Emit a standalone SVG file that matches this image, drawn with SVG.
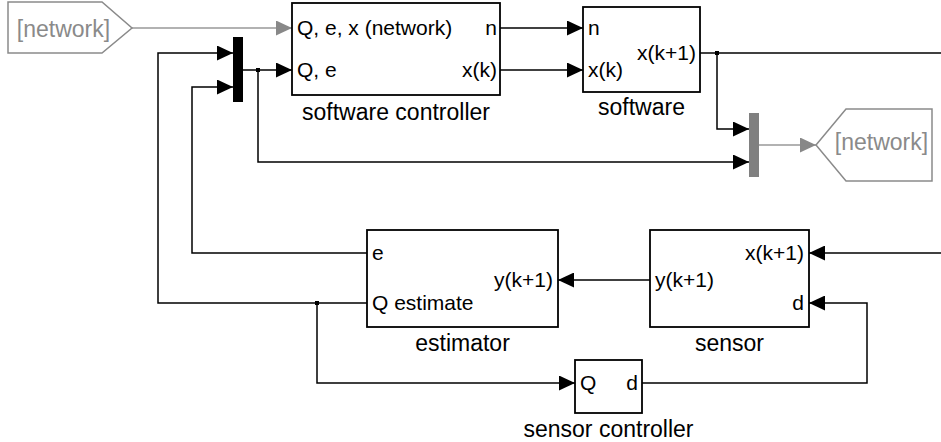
<svg xmlns="http://www.w3.org/2000/svg" width="941" height="442" viewBox="0 0 941 442">
<defs>
<style>
.blk{fill:#fff;stroke:#000;stroke-width:1.8}
.mux{fill:#000;stroke:none}
.gmux{fill:#808080;stroke:none}
.tag{fill:#fff;stroke:#8a8a8a;stroke-width:1.5}
.tagt{font-family:"Liberation Sans",Arial,sans-serif;font-size:23px;fill:#8a8a8a;text-anchor:middle}
.port{font-family:"Liberation Sans",Arial,sans-serif;font-size:21px;fill:#000}
.end{text-anchor:end}
.lbl{font-family:"Liberation Sans",Arial,sans-serif;font-size:23px;fill:#000;text-anchor:middle}
.w{fill:none;stroke:#000;stroke-width:1.5}
.gw{fill:none;stroke:#999;stroke-width:1.5}
.dot{fill:#000}
</style>
<marker id="a" markerUnits="userSpaceOnUse" markerWidth="16" markerHeight="15" refX="16" refY="7.5" orient="auto">
<path d="M0,0 L16,7.5 L0,15 z" fill="#000"/>
</marker>
<marker id="ga" markerUnits="userSpaceOnUse" markerWidth="16" markerHeight="15" refX="16" refY="7.5" orient="auto">
<path d="M0,0 L16,7.5 L0,15 z" fill="#888"/>
</marker>
</defs>

<g id="connectors">
<path class="gw" d="M132,28 H292" marker-end="url(#ga)"/>
<path class="w" d="M243,70 H292" marker-end="url(#a)"/>
<path class="w" d="M258,70 V162 H749" marker-end="url(#a)"/>
<path class="w" d="M500,28 H583" marker-end="url(#a)"/>
<path class="w" d="M500,70 H583" marker-end="url(#a)"/>
<path class="w" d="M700,53 H941"/>
<path class="w" d="M717,53 V129 H749" marker-end="url(#a)"/>
<path class="gw" d="M759,145 H816" marker-end="url(#ga)"/>
<path class="w" d="M941,253 H809" marker-end="url(#a)"/>
<path class="w" d="M650,280 H558" marker-end="url(#a)"/>
<path class="w" d="M367,253 H192 V87 H233" marker-end="url(#a)"/>
<path class="w" d="M367,303 H158 V53 H233" marker-end="url(#a)"/>
<path class="w" d="M317,303 V383 H575" marker-end="url(#a)"/>
<path class="w" d="M642,383 H867 V303 H809" marker-end="url(#a)"/>
<rect class="dot" x="256" y="68" width="4" height="4"/>
<rect class="dot" x="715" y="51" width="4" height="4"/>
<rect class="dot" x="315" y="301" width="4" height="4"/>
</g>

<g id="tag-network-from">
<polygon class="tag" points="8,2 102,2 132,28 102,53 8,53"/>
<text class="tagt" x="63.5" y="37">[network]</text>
</g>

<g id="mux-left">
<rect class="mux" x="233" y="37" width="10" height="65"/>
</g>

<g id="software-controller">
<rect class="blk" x="292" y="3" width="208" height="92"/>
<text class="port" x="297" y="35">Q, e, x (network)</text>
<text class="port" x="297" y="77">Q, e</text>
<text class="port end" x="497" y="35">n</text>
<text class="port end" x="497" y="77">x(k)</text>
<text class="lbl" x="396" y="120">software controller</text>
</g>

<g id="software">
<rect class="blk" x="583" y="7" width="117" height="85"/>
<text class="port" x="588" y="35">n</text>
<text class="port" x="588" y="77">x(k)</text>
<text class="port end" x="696" y="60">x(k+1)</text>
<text class="lbl" x="641.5" y="115">software</text>
</g>

<g id="mux-right">
<rect class="gmux" x="749" y="113" width="10" height="64"/>
</g>

<g id="tag-network-goto">
<polygon class="tag" points="816,145 846,109 932,109 932,181 846,181"/>
<text class="tagt" x="881.5" y="150">[network]</text>
</g>

<g id="estimator">
<rect class="blk" x="367" y="230" width="191" height="97"/>
<text class="port" x="372" y="260">e</text>
<text class="port" x="372" y="310">Q estimate</text>
<text class="port end" x="553" y="287">y(k+1)</text>
<text class="lbl" x="462.5" y="351">estimator</text>
</g>

<g id="sensor">
<rect class="blk" x="650" y="230" width="159" height="97"/>
<text class="port" x="655" y="287">y(k+1)</text>
<text class="port end" x="804" y="260">x(k+1)</text>
<text class="port end" x="804" y="310">d</text>
<text class="lbl" x="729.5" y="351">sensor</text>
</g>

<g id="sensor-controller">
<rect class="blk" x="575" y="360" width="67" height="53"/>
<text class="port" x="580" y="390">Q</text>
<text class="port end" x="638" y="390">d</text>
<text class="lbl" x="608.5" y="437">sensor controller</text>
</g>
</svg>
